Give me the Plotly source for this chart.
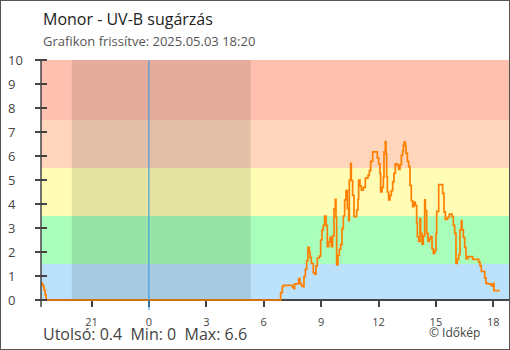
import plotly.graph_objects as go

# ---- data (hours relative to local midnight of 2025-05-03) ----
hours = [-5.633, -5.58, -5.53, -5.48, -5.42, -5.37,
         6.885, 6.972, 7.024, 7.512, 7.582, 7.617, 7.826, 7.895, 7.965, 8.035,
         8.105, 8.174, 8.244, 8.314, 8.383, 8.418, 8.488, 8.592, 8.662, 8.732,
         8.801, 8.906, 8.976, 9.045, 9.115, 9.185, 9.255, 9.324, 9.394, 9.464,
         9.533, 9.603, 9.673, 9.742, 9.777, 9.812, 9.882, 9.952, 10.021, 10.091,
         10.161, 10.23, 10.3, 10.37, 10.439, 10.474, 10.544, 10.579, 10.648, 10.718,
         10.858, 10.927, 10.962, 11.032, 11.102, 11.206, 11.311, 11.45, 11.52, 11.589,
         11.694, 11.938, 12.008, 12.077, 12.112, 12.182, 12.252, 12.286, 12.356, 12.391,
         12.426, 12.461, 12.53, 12.6, 12.67, 12.74, 12.809, 12.879, 12.983, 13.053,
         13.123, 13.193, 13.262, 13.297, 13.332, 13.402, 13.437, 13.506, 13.576, 13.646,
         13.715, 13.785, 13.855, 13.924, 13.994, 14.029, 14.099, 14.168, 14.203, 14.273,
         14.343, 14.412, 14.447, 14.517, 14.587, 14.656, 14.726, 14.796, 14.865, 14.935,
         15.005, 15.04, 15.144, 15.353, 15.423, 15.492, 15.597, 15.702, 15.841, 15.911,
         15.98, 16.05, 16.12, 16.19, 16.259, 16.329, 16.364, 16.433, 16.503, 16.573,
         16.677, 16.921, 17.235, 17.305, 17.374, 17.549, 17.618, 17.723, 17.862, 17.932,
         18.002, 18.036, 18.333]
uvb = [0.7, 0.64, 0.57, 0.42, 0.21, 0.0,
       0.31, 0.56, 0.61, 0.53, 0.47, 0.67, 0.89, 0.69, 0.61, 0.56,
       0.97, 1.28, 1.64, 2.19, 2.0, 1.78, 1.53, 1.14, 1.08, 1.42,
       1.75, 1.83, 2.5, 2.92, 3.11, 3.5, 3.11, 2.22, 2.42, 2.61,
       2.22, 2.67, 3.81, 4.19, 3.44, 1.46, 1.86, 2.11, 2.31, 2.97,
       3.5, 4.17, 4.56, 3.81, 3.31, 5.0, 5.69, 4.97, 4.36, 3.47,
       3.75, 4.19, 5.0, 4.75, 4.58, 4.69, 5.08, 5.19, 5.39, 5.78,
       6.17, 5.92, 5.67, 5.28, 4.5, 4.69, 5.11, 6.17, 6.6, 6.08,
       5.14, 4.5, 4.17, 4.36, 4.56, 4.92, 5.28, 5.67, 5.61, 5.44,
       5.64, 6.03, 6.19, 6.44, 6.58, 6.42, 6.11, 5.78, 5.56, 4.78,
       4.14, 3.89, 4.08, 3.94, 3.22, 2.64, 2.44, 3.39, 2.78, 2.33,
       2.67, 4.17, 3.72, 2.78, 2.44, 2.56, 2.64, 2.14, 1.94, 2.06,
       2.78, 3.69, 4.81, 4.44, 3.67, 3.36, 3.44, 3.58, 3.47, 3.11,
       2.78, 1.53, 1.69, 1.89, 2.92, 3.31, 2.92, 2.61, 2.19, 1.72,
       1.81, 1.69, 1.58, 1.42, 1.19, 0.92, 0.69, 0.67, 0.64, 0.58,
       0.69, 0.39, 0.39]

x_range = [-5.64, 18.82]
x_tickvals = [-3, 0, 3, 6, 9, 12, 15, 18]
x_ticktext = ["21", "0", "3", "6", "9", "12", "15", "18"]
y_tickvals = list(range(0, 11))

band_edges = [0, 1.5, 3.5, 5.5, 7.5, 10]
band_colors = ["#bbe1fb", "#aafebb", "#fffdb5", "#ffd6bb", "#ffc0b0"]
sunset, sunrise = -4.03, 5.32
midnight = 0

title = "Monor - UV-B sugárzás"
subtitle = "Grafikon frissítve: 2025.05.03 18:20"
stats = "Utolsó: 0.4\u00a0 Min: 0\u00a0 Max: 6.6"
credit = "© Időkép"

FONT = "Open Sans"
AX = "#444444"

# ---- layout geometry (pixels) ----
W, H = 510, 350
L, R = 41, 1
TOP = 60
EXTRA = 5                        # plot area reaches a little below the zero line so the zero trace is not clipped
BOTTOM_PX = 300 + EXTRA
PH = BOTTOM_PX - TOP
PW = W - L - R
y_lo = -10 * EXTRA / (300 - TOP)


def px(x):
    return (x - L) / PW


def py(y):
    return (BOTTOM_PX - y) / PH


fig = go.Figure()
fig.add_trace(go.Scatter(x=hours, y=uvb, mode="lines", line=dict(color="#ff8000", width=1.7, shape="hv"),
                         hoverinfo="skip", showlegend=False))

shapes = []
for i, c in enumerate(band_colors):
    shapes.append(dict(type="rect", xref="x", yref="y", x0=x_range[0], x1=x_range[1],
                       y0=band_edges[i], y1=band_edges[i + 1], fillcolor=c, line_width=0, layer="below"))
shapes.append(dict(type="rect", xref="x", yref="y", x0=sunset, x1=sunrise, y0=band_edges[0], y1=band_edges[-1],
                   fillcolor="rgba(0,0,0,0.1)", line_width=0, layer="below"))
shapes.append(dict(type="line", xref="x", yref="paper", x0=midnight, x1=midnight, y0=py(310), y1=1,
                   line=dict(color="#2a95e0", width=1), layer="above"))
# y-axis line (extends below x axis)
shapes.append(dict(type="line", xref="paper", yref="paper", x0=0, x1=0, y0=py(307), y1=py(59),
                   line=dict(color=AX, width=1.5), layer="above"))
# outer frame
shapes.append(dict(type="rect", xref="paper", yref="paper", x0=px(0), x1=px(W),
                   y0=py(H), y1=py(0), line=dict(color="#555555", width=2), fillcolor="rgba(0,0,0,0)"))

annotations = [
    dict(text=title, x=0, y=py(19), xref="paper", yref="paper", xanchor="left", yanchor="middle",
         showarrow=False, font=dict(family=FONT, size=16, color="#222222")),
    dict(text=subtitle, x=0, y=py(41), xref="paper", yref="paper", xanchor="left", yanchor="middle",
         showarrow=False, font=dict(family=FONT, size=13, color="#555555")),
    dict(text=stats, x=0, y=py(334), xref="paper", yref="paper", xanchor="left", yanchor="middle",
         showarrow=False, font=dict(family=FONT, size=16, color="#444444")),
    dict(text=credit, x=px(482), y=py(332), xref="paper", yref="paper", xanchor="right",
         yanchor="middle", showarrow=False, font=dict(family=FONT, size=12, color="#444444")),
]
for v in y_tickvals:
    annotations.append(dict(text=str(v), x=px(6), y=v, xref="paper", yref="y", xanchor="left",
                            yanchor="middle", showarrow=False, font=dict(family=FONT, size=13, color="#444444")))

fig.update_layout(
    width=W, height=H,
    margin=dict(l=L, r=R, t=TOP, b=H - BOTTOM_PX, pad=0),
    paper_bgcolor="white", plot_bgcolor="rgba(0,0,0,0)",
    font=dict(family=FONT, size=12, color="#444444"),
    shapes=shapes, annotations=annotations,
    # x axis: line at the zero level, drawn beneath the data line
    xaxis=dict(range=x_range, tickvals=x_tickvals, ticktext=x_ticktext, anchor="free", position=py(300),
               showline=True, linecolor=AX, linewidth=1.5, layer="below traces",
               ticks="outside", ticklen=6, tickwidth=1.5, tickcolor=AX, ticklabelstandoff=6,
               tickfont=dict(family=FONT, size=11, color="#444444"),
               showgrid=False, zeroline=False, fixedrange=True),
    # y ticks cross the axis line: the tick axis sits 6 px inside and reaches 12 px outward
    yaxis=dict(range=[y_lo, 10], tickvals=y_tickvals, anchor="free", position=px(47),
               ticks="outside", ticklen=12, tickwidth=1.5, tickcolor=AX, showline=False,
               showticklabels=False, showgrid=False, zeroline=False, fixedrange=True),
)

fig.write_html("out.html")
